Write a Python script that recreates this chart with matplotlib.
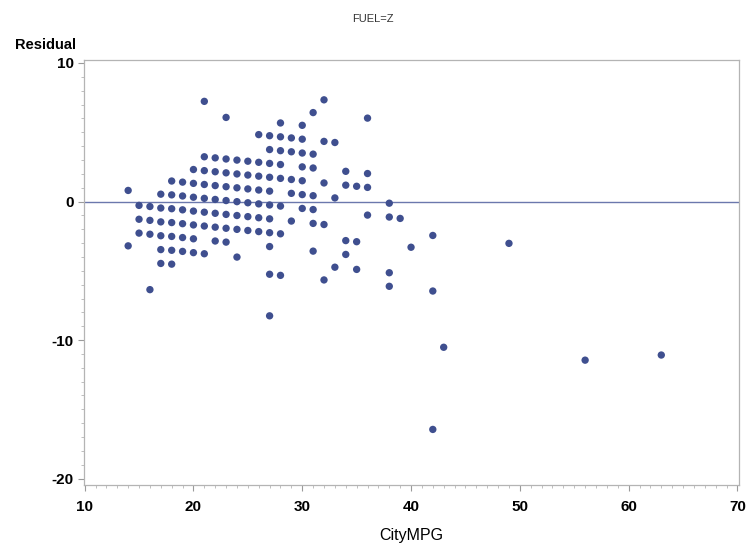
import matplotlib
matplotlib.use("Agg")
import matplotlib.pyplot as plt
from matplotlib.ticker import MultipleLocator

plt.rcParams['font.family'] = ['Liberation Sans', 'DejaVu Sans']
plt.rcParams['axes.unicode_minus'] = False

# residuals, one list per CityMPG column
city_mpg = (
    [14] * 2 + [15] * 3 + [16] * 4 + [17] * 6 + [18] * 7 + [19] * 6 + [20] * 7
    + [21] * 8 + [22] * 7 + [23] * 8 + [24] * 7 + [25] * 6 + [26] * 7
    + [27] * 11 + [28] * 8 + [29] * 5 + [30] * 7 + [31] * 7 + [32] * 5
    + [33] * 3 + [34] * 4 + [35] * 3 + [36] * 4 + [38] * 4
    + [39, 40, 42, 42, 42, 43, 49, 56, 63]
)
residual = [
    0.80, -3.20,
    -0.28, -1.28, -2.28,
    -0.36, -1.36, -2.36, -6.36,
    0.53, -0.47, -1.47, -2.47, -3.47, -4.47,
    1.48, 0.48, -0.52, -1.52, -2.52, -3.52, -4.52,
    1.40, 0.40, -0.60, -1.60, -2.60, -3.60,
    2.31, 1.31, 0.31, -0.69, -1.69, -2.69, -3.69,
    7.23, 3.23, 2.23, 1.23, 0.23, -0.77, -1.77, -3.77,
    3.15, 2.15, 1.15, 0.15, -0.85, -1.85, -2.85,
    6.07, 3.07, 2.07, 1.07, 0.07, -0.93, -1.93, -2.93,
    2.99, 1.99, 0.99, -0.01, -1.01, -2.01, -4.01,
    2.91, 1.91, 0.91, -0.09, -1.09, -2.09,
    4.83, 2.83, 1.83, 0.83, -0.17, -1.17, -2.17,
    4.75, 3.75, 2.75, 1.75, 0.75, -0.25, -1.25, -2.25, -3.25, -5.25, -8.25,
    5.67, 4.67, 3.67, 2.67, 1.67, -0.33, -2.33, -5.33,
    4.59, 3.59, 1.59, 0.59, -1.41,
    5.50, 4.50, 3.50, 2.50, 1.50, 0.50, -0.50,
    6.42, 3.42, 2.42, 0.42, -0.58, -1.58, -3.58,
    7.34, 4.34, 1.34, -1.66, -5.66,
    4.26, 0.26, -4.74,
    2.18, 1.18, -2.82, -3.82,
    1.10, -2.90, -4.90,
    6.02, 2.02, 1.02, -0.98,
    -0.12, -1.12, -5.14, -6.12,
    -1.22, -3.30, -2.45, -6.46, -16.45, -10.52, -3.02, -11.45, -11.08,
]
x_ticks = [10, 20, 30, 40, 50, 60, 70]
y_ticks = [-20, -10, 0, 10]

fig = plt.figure(figsize=(7.46, 5.46), dpi=100)
ax = fig.add_axes([0.112, 0.112, 0.878, 0.779])

ax.axhline(0, color='#6b78ad', linewidth=1.0, zorder=1)
ax.scatter(city_mpg, residual, s=28, color='#3f4f8f', edgecolors='none', zorder=2)

ax.set_xlim(9.9, 70.1)
ax.set_ylim(-20.45, 10.25)
ax.set_xticks(x_ticks)
ax.set_yticks(y_ticks)
ax.xaxis.set_minor_locator(MultipleLocator(1))
ax.yaxis.set_minor_locator(MultipleLocator(1))

for side in ax.spines.values():
    side.set_color('#b4b4b4')
    side.set_linewidth(0.9)
ax.tick_params(which='major', direction='out', length=4, width=0.8, color='#9a9a9a',
               labelsize=11, pad=3)
ax.tick_params(axis='x', which='major', pad=7)
ax.tick_params(which='minor', direction='out', length=2, width=0.6, color='#b4b4b4')
for lab in ax.get_xticklabels() + ax.get_yticklabels():
    lab.set_fontweight('bold')

ax.set_xlabel('CityMPG', fontsize=11.5, labelpad=10)
fig.text(0.102, 0.905, 'Residual', fontsize=10.5, fontweight='bold', ha='right', va='bottom')
fig.text(0.5, 0.965, 'FUEL=Z', fontsize=8, color='#333333', ha='center', va='center')

fig.savefig('out.png', dpi=100)
